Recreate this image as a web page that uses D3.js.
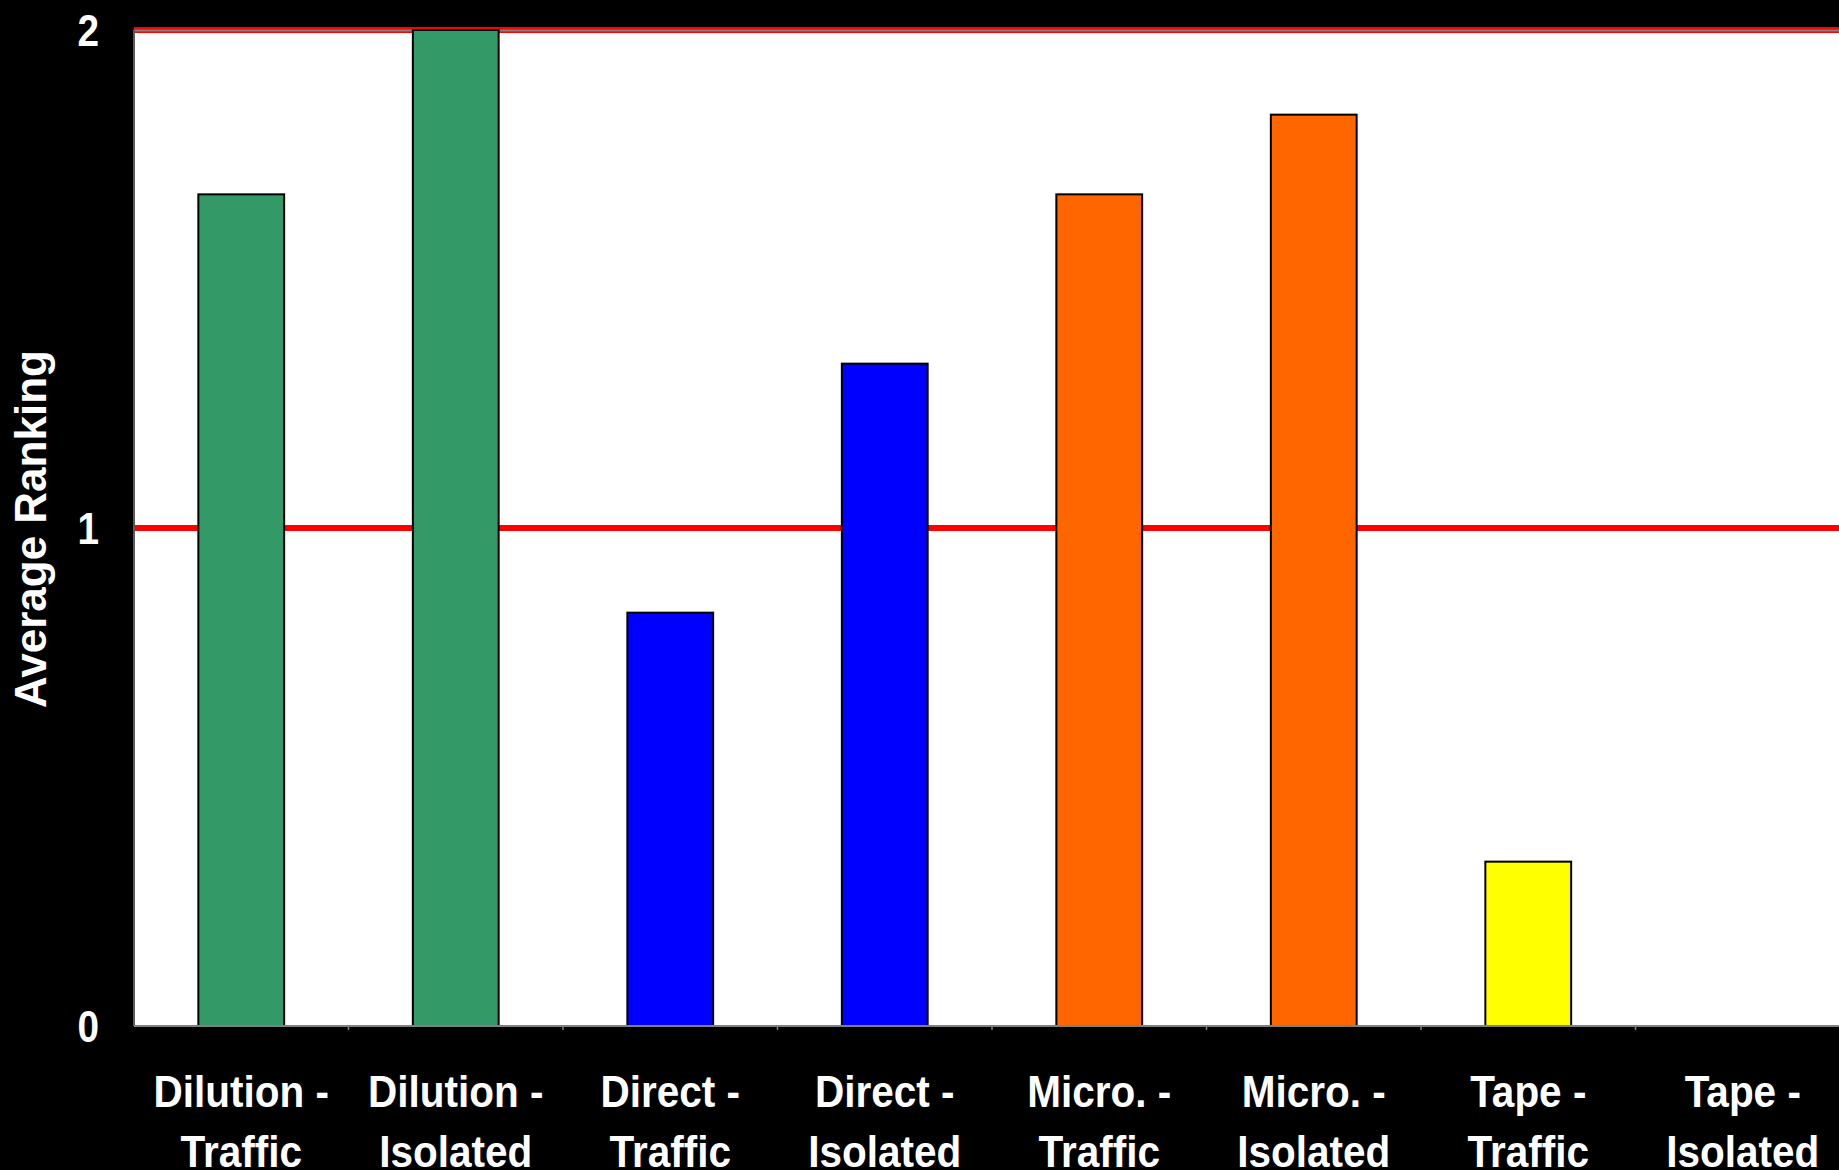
<!DOCTYPE html>
<html>
<head>
<meta charset="utf-8">
<script src="https://cdn.jsdelivr.net/npm/d3@7"></script>
<style>
  html, body { margin: 0; padding: 0; background: #000; }
  svg { display: block; }
  text { font-family: "Liberation Sans", Arial, sans-serif; font-weight: bold; fill: #fff; }
</style>
</head>
<body>
<svg id="chart" width="1839" height="1170"></svg>
<script>
// ---- data ----
const categories = ["Dilution - Traffic", "Dilution - Isolated", "Direct - Traffic", "Direct - Isolated",
                    "Micro. - Traffic", "Micro. - Isolated", "Tape - Traffic", "Tape - Isolated"];
const labelLine1 = ["Dilution -", "Dilution -", "Direct -", "Direct -", "Micro. -", "Micro. -", "Tape -", "Tape -"];
const labelLine2 = ["Traffic", "Isolated", "Traffic", "Isolated", "Traffic", "Isolated", "Traffic", "Isolated"];
const values = [1.67, 2.0, 0.83, 1.33, 1.67, 1.83, 0.33, 0];
const barColors = ["#339966", "#339966", "#0000FF", "#0000FF", "#FF6600", "#FF6600", "#FFFF00", "#FFFF00"];
const yTicks = [0, 1, 2];
const refLines = [1, 2];
const yTitle = "Average Ranking";

(function () {
// ---- layout ----
const svg = d3.select("#chart");
const mLeft = 134, mTop = 30, mBottom = 1026, step = 214.5;
const mRight = mLeft + step * categories.length;
const sx = 0.9;

const x = d3.scaleBand().domain(categories).range([mLeft, mRight]).paddingInner(0.6).paddingOuter(0.3);
const y = d3.scaleLinear().domain([0, 2]).range([mBottom, mTop]);

// plot background
svg.append("rect").attr("x", mLeft).attr("y", mTop).attr("width", mRight - mLeft).attr("height", mBottom - mTop)
  .attr("fill", "#fff");

// red reference lines
svg.selectAll("line.ref").data(refLines).enter().append("line")
  .attr("class", "ref")
  .attr("x1", mLeft).attr("x2", mRight)
  .attr("y1", d => y(d)).attr("y2", d => y(d))
  .attr("stroke", "#FF0000").attr("stroke-width", 6);

// plot border (top + left)
svg.append("line").attr("x1", mLeft).attr("x2", mRight).attr("y1", mTop + 0.5).attr("y2", mTop + 0.5)
  .attr("stroke", "#808080").attr("stroke-width", 2);
svg.append("line").attr("x1", mLeft).attr("x2", mLeft).attr("y1", mTop).attr("y2", mBottom)
  .attr("stroke", "#5a5a5a").attr("stroke-width", 2);

// bars
svg.selectAll("rect.bar").data(categories).enter().append("rect")
  .attr("class", "bar")
  .attr("x", d => x(d))
  .attr("width", x.bandwidth())
  .attr("y", (d, i) => y(values[i]))
  .attr("height", (d, i) => y(0) - y(values[i]))
  .attr("fill", (d, i) => barColors[i])
  .attr("stroke", "#000")
  .attr("stroke-width", 2)
  .style("display", (d, i) => values[i] > 0 ? null : "none");

// x axis
const xAxis = svg.append("g").attr("transform", `translate(0,${mBottom})`)
  .call(d3.axisBottom(x).tickSize(0).tickPadding(0));
xAxis.select(".domain").attr("stroke", "#808080").attr("stroke-width", 2).attr("d", `M${mLeft},0H${mRight}`);
xAxis.selectAll(".tick text").remove();
xAxis.selectAll(".tick").each(function(d, i) {
  const t = d3.select(this).append("text")
    .attr("text-anchor", "middle")
    .attr("transform", `scale(${sx},1)`)
    .style("font-size", "45px");
  t.append("tspan").attr("x", 0).attr("y", 81).text(labelLine1[i]);
  t.append("tspan").attr("x", 0).attr("y", 141).text(labelLine2[i]);
});
// category boundary tick marks
const gap = (x.step() - x.bandwidth()) / 2;
svg.selectAll("line.ctick").data(categories.slice(1)).enter().append("line")
  .attr("class", "ctick")
  .attr("x1", d => x(d) - gap).attr("x2", d => x(d) - gap)
  .attr("y1", mBottom).attr("y2", mBottom + 4)
  .attr("stroke", "#808080").attr("stroke-width", 1.5);

// y axis
const yAxis = svg.append("g").attr("transform", `translate(${mLeft},0)`)
  .call(d3.axisLeft(y).tickValues(yTicks).tickFormat(d3.format("d")).tickSize(0).tickPadding(35));
yAxis.select(".domain").remove();
yAxis.selectAll(".tick text")
  .attr("x", -35 / 0.88)
  .attr("dy", "0.36em")
  .attr("transform", "scale(0.88,1)")
  .attr("fill", "#fff")
  .style("font-size", "44px");

// y title
svg.append("text")
  .attr("transform", "translate(46,529) rotate(-90)")
  .attr("text-anchor", "middle")
  .style("font-size", "44px")
  .text(yTitle);
})();
</script>
</body>
</html>
